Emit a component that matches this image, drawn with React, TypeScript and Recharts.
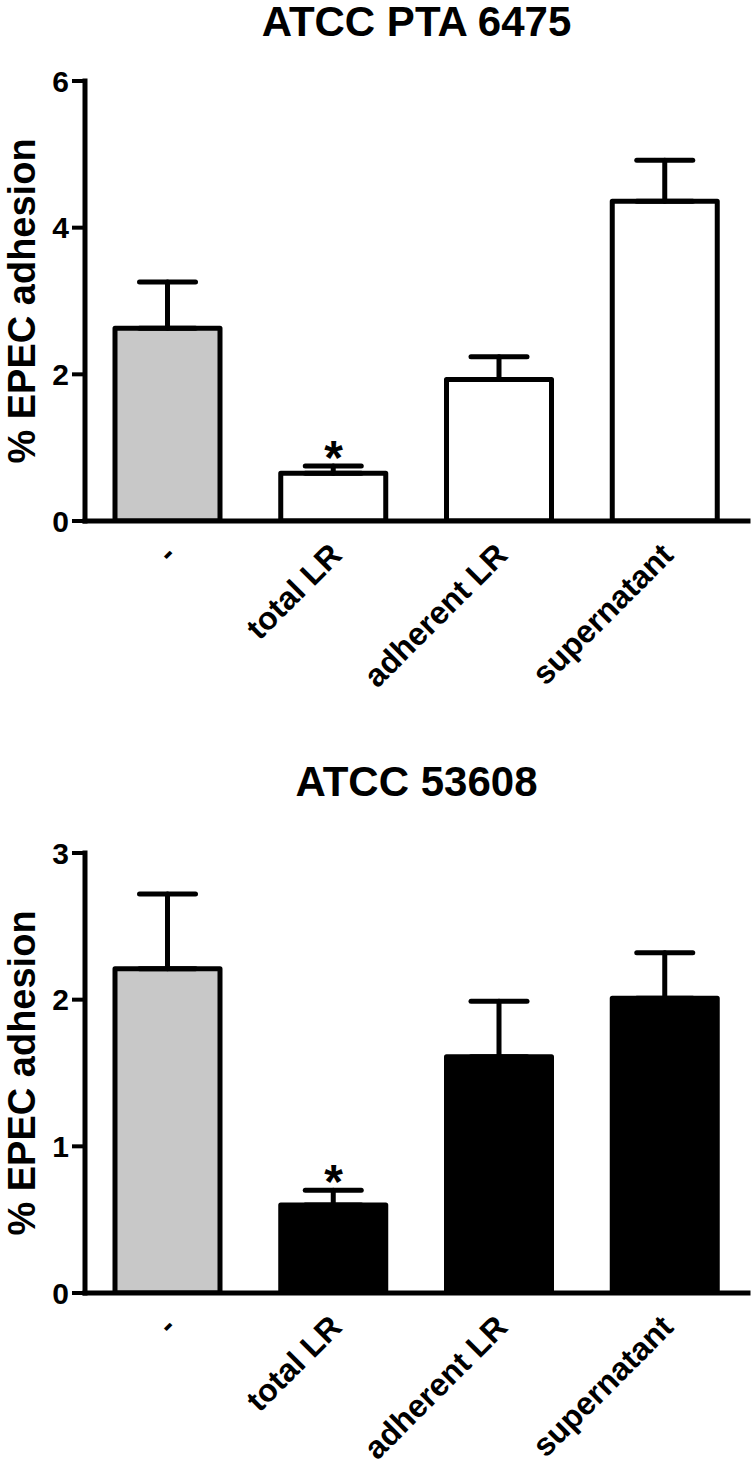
import React from 'react';
import { BarChart, Bar, XAxis, YAxis, ErrorBar, Cell, ReferenceDot } from 'recharts';

const FONT = '"Liberation Sans", Arial, Helvetica, sans-serif';

const categories = ['-', 'total LR', 'adherent LR', 'supernatant'];
const yLabel = '% EPEC adhesion';

const titleTop = 'ATCC PTA 6475';
const meansTop = [2.63, 0.65, 1.93, 4.36];
const semTop = [0.63, 0.1, 0.31, 0.56];
const marksTop = ['', '*', '', ''];
const ticksTop = [0, 2, 4, 6];
const fillsTop = ['#c8c8c8', '#ffffff', '#ffffff', '#ffffff'];

const titleBottom = 'ATCC 53608';
const meansBottom = [2.21, 0.6, 1.61, 2.01];
const semBottom = [0.51, 0.1, 0.38, 0.31];
const marksBottom = ['', '*', '', ''];
const ticksBottom = [0, 1, 2, 3];
const fillsBottom = ['#c8c8c8', '#000000', '#000000', '#000000'];

const XTick = (props: any) => {
  const { x, y, payload } = props;
  const ax = x + 10;
  const ay = y + 36;
  return (
    <text
      x={ax}
      y={ay}
      transform={`rotate(-45 ${ax} ${ay})`}
      textAnchor="end"
      fontSize={32}
      fontWeight="bold"
      fontFamily={FONT}
      fill="#000"
    >
      {payload.value}
    </text>
  );
};

const makeStar = (txt: string) => (p: any) => (
  <text
    x={p.cx}
    y={p.cy + 8}
    textAnchor="middle"
    fontSize={48}
    fontWeight="bold"
    fontFamily={FONT}
    fill="#000"
  >
    {txt}
  </text>
);

const YLabelContent = (p: any) => {
  const vb = p.viewBox || { x: 0, y: 0, width: 85, height: 440 };
  const cx = vb.x + 35;
  const cy = vb.y + vb.height / 2;
  return (
    <text
      x={cx}
      y={cy}
      transform={`rotate(-90 ${cx} ${cy})`}
      textAnchor="middle"
      fontSize={38}
      fontWeight="bold"
      fontFamily={FONT}
      fill="#000"
    >
      {yLabel}
    </text>
  );
};

type PanelProps = {
  title: string;
  means: number[];
  sems: number[];
  marks: string[];
  ticks: number[];
  fills: string[];
  top: number;
  height: number;
  marginTop: number;
  axisHeight: number;
  titleTopPx: number;
};

const Panel = ({ title, means, sems, marks, ticks, fills, top, height, marginTop, axisHeight, titleTopPx }: PanelProps) => {
  const data = categories.map((c, i) => ({ name: c, mean: means[i], err: [0, sems[i]] }));
  return (
    <div style={{ position: 'absolute', left: 0, top, width: 754, height }}>
      <div
        style={{
          position: 'absolute',
          left: 85,
          width: 663,
          top: titleTopPx,
          textAlign: 'center',
          fontFamily: FONT,
          fontWeight: 'bold',
          fontSize: 42,
          lineHeight: '42px',
          color: '#000',
          whiteSpace: 'nowrap',
        }}
      >
        {title}
      </div>
      <BarChart
        width={754}
        height={height}
        data={data}
        margin={{ top: marginTop, right: 6, left: 0, bottom: 0 }}
        barCategoryGap={0}
      >
        <XAxis
          dataKey="name"
          height={axisHeight}
          axisLine={{ stroke: '#000', strokeWidth: 5, strokeLinecap: 'square' }}
          tickLine={false}
          tickSize={0}
          tickMargin={0}
          interval={0}
          tick={<XTick />}
        />
        <YAxis
          width={85}
          domain={[ticks[0], ticks[ticks.length - 1]]}
          ticks={ticks}
          allowDataOverflow
          axisLine={{ stroke: '#000', strokeWidth: 5, strokeLinecap: 'square' }}
          tickLine={{ stroke: '#000', strokeWidth: 4 }}
          tickSize={13}
          tickMargin={3}
          tick={{ fontSize: 30, fontWeight: 'bold', fill: '#000', fontFamily: FONT }}
          label={{ content: (p: any) => <YLabelContent {...p} /> }}
        />
        <Bar
          dataKey="mean"
          barSize={105}
          stroke="#000"
          strokeWidth={5}
          strokeLinejoin="round"
          isAnimationActive={false}
        >
          {data.map((d, i) => (
            <Cell key={d.name} fill={fills[i]} />
          ))}
          <ErrorBar
            dataKey="err"
            direction="y"
            width={28}
            stroke="#000"
            strokeWidth={5}
            strokeLinecap="round"
            isAnimationActive={false}
          />
        </Bar>
        {marks.map((m, i) =>
          m ? (
            <ReferenceDot
              key={`mark-${i}`}
              x={categories[i]}
              y={means[i] + sems[i]}
              r={0}
              ifOverflow="visible"
              shape={makeStar(m)}
            />
          ) : null
        )}
      </BarChart>
    </div>
  );
};

export default function App() {
  return (
    <div style={{ position: 'absolute', left: 0, top: 0, width: 754, height: 1467, background: '#fff' }}>
      <Panel
        title={titleTop}
        means={meansTop}
        sems={semTop}
        marks={marksTop}
        ticks={ticksTop}
        fills={fillsTop}
        top={0}
        height={733}
        marginTop={81}
        axisHeight={212}
        titleTopPx={1}
      />
      <Panel
        title={titleBottom}
        means={meansBottom}
        sems={semBottom}
        marks={marksBottom}
        ticks={ticksBottom}
        fills={fillsBottom}
        top={733}
        height={734}
        marginTop={120}
        axisHeight={174}
        titleTopPx={28}
      />
    </div>
  );
}
